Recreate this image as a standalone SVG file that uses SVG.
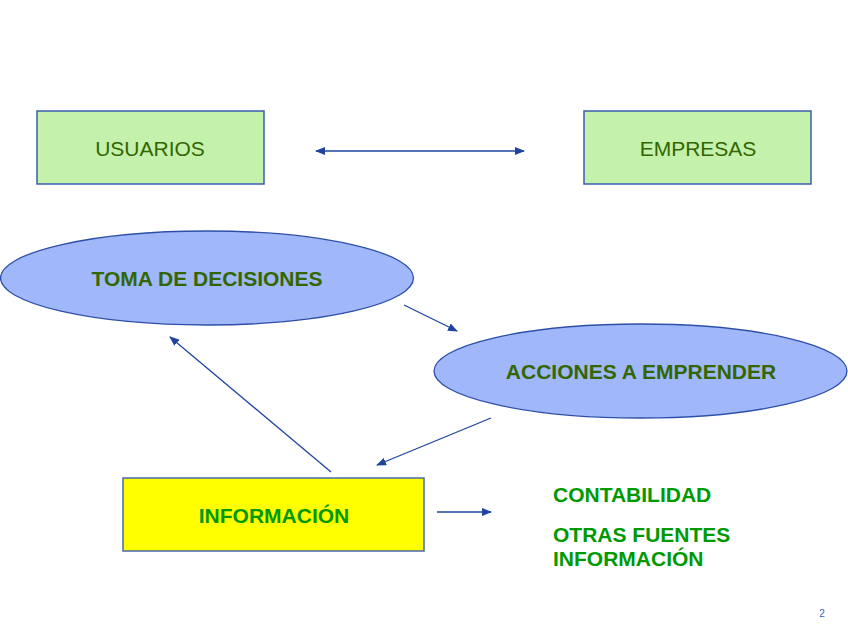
<svg xmlns="http://www.w3.org/2000/svg" width="848" height="636" viewBox="0 0 848 636">
<style>
.box{fill:#c4f2ac;stroke:#3b5cb0;stroke-width:1.5}
.ell{fill:#a0b8fa;stroke:#2e4fa8;stroke-width:1.3}
.t{font-family:"Liberation Sans",Arial,sans-serif;font-size:21px;text-anchor:middle}
.dk{fill:#336600}
.gr{fill:#009900}
.b{font-weight:bold}
.conn line{stroke:#1f44a0;stroke-width:1.3;fill:none}
</style>
<defs>
<marker id="ah" markerWidth="10" markerHeight="8" refX="9" refY="4" orient="auto" markerUnits="userSpaceOnUse">
<path d="M0,0 L10,4 L0,8 Z" fill="#1f44a0"/>
</marker>
<marker id="as" markerWidth="10" markerHeight="8" refX="1" refY="4" orient="auto" markerUnits="userSpaceOnUse">
<path d="M10,0 L0,4 L10,8 Z" fill="#1f44a0"/>
</marker>
</defs>
<rect width="848" height="636" fill="#fff"/>
<g id="usuarios">
<rect class="box" x="37" y="111" width="227" height="73"/>
<text class="t dk" x="150" y="156">USUARIOS</text>
</g>
<g id="empresas">
<rect class="box" x="584" y="111" width="227" height="73"/>
<text class="t dk" x="698" y="156">EMPRESAS</text>
</g>
<g id="toma">
<ellipse class="ell" cx="207" cy="278" rx="206.5" ry="47"/>
<text class="t dk b" x="207" y="286">TOMA DE DECISIONES</text>
</g>
<g id="acciones">
<ellipse class="ell" cx="640.5" cy="371" rx="206.5" ry="47"/>
<text class="t dk b" x="641" y="379">ACCIONES A EMPRENDER</text>
</g>
<g id="informacion">
<rect x="123" y="478" width="301" height="73" fill="#ffff00" stroke="#4a6aa8" stroke-width="1.5"/>
<text class="t gr b" x="274" y="523">INFORMACIÓN</text>
</g>
<g id="fuentes">
<text class="t gr b" x="553" y="502" style="text-anchor:start">CONTABILIDAD</text>
<text class="t gr b" x="553" y="542" style="text-anchor:start">OTRAS FUENTES</text>
<text class="t gr b" x="553" y="566" style="text-anchor:start">INFORMACIÓN</text>
</g>
<g class="conn">
<line x1="316" y1="151" x2="524" y2="151" marker-start="url(#as)" marker-end="url(#ah)"/>
<line x1="404" y1="305" x2="457" y2="331" marker-end="url(#ah)"/>
<line x1="491" y1="418" x2="377" y2="465" marker-end="url(#ah)"/>
<line x1="331" y1="472" x2="170" y2="337" marker-end="url(#ah)"/>
<line x1="437" y1="512" x2="491" y2="512" marker-end="url(#ah)"/>
</g>
<text x="822" y="617" font-family="Liberation Sans,Arial,sans-serif" font-size="10" fill="#3b5cb0" text-anchor="middle">2</text>
</svg>
